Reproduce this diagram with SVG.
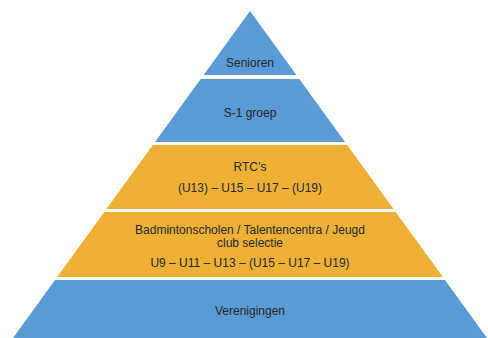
<svg xmlns="http://www.w3.org/2000/svg" width="488" height="338" viewBox="0 0 488 338">
<style>
.blue{fill:#5B9BD5}
.orange{fill:#EEB136}
text{font-family:"Liberation Sans",Arial,sans-serif;font-size:12px;fill:#262626;text-anchor:middle}
</style>
<rect width="488" height="338" fill="#ffffff"/>
<g id="senioren">
<polygon class="blue" points="250,11 296.4,75 203.6,75"/>
<text x="250" y="66.5">Senioren</text>
</g>
<g id="s1groep">
<polygon class="blue" points="200.7,79 299.3,79 345,142 155,142"/>
<text x="250" y="117">S-1 groep</text>
</g>
<g id="rtcs">
<polygon class="orange" points="152.8,145 347.2,145 393.6,209 106.4,209"/>
<text x="250" y="171">RTC’s</text>
<text x="250" y="192">(U13) – U15 – U17 – (U19)</text>
</g>
<g id="badmintonscholen">
<polygon class="orange" points="104.3,212 395.7,212 442.9,277 57.1,277"/>
<text x="250" y="233.5">Badmintonscholen / Talentencentra / Jeugd</text>
<text x="250" y="246.5">club selectie</text>
<text x="250" y="266.5">U9 – U11 – U13 – (U15 – U17 – U19)</text>
</g>
<g id="verenigingen">
<polygon class="blue" points="55,280 445,280 487,338 13,338"/>
<text x="250" y="315">Verenigingen</text>
</g>
<g id="connectors"></g>
</svg>
